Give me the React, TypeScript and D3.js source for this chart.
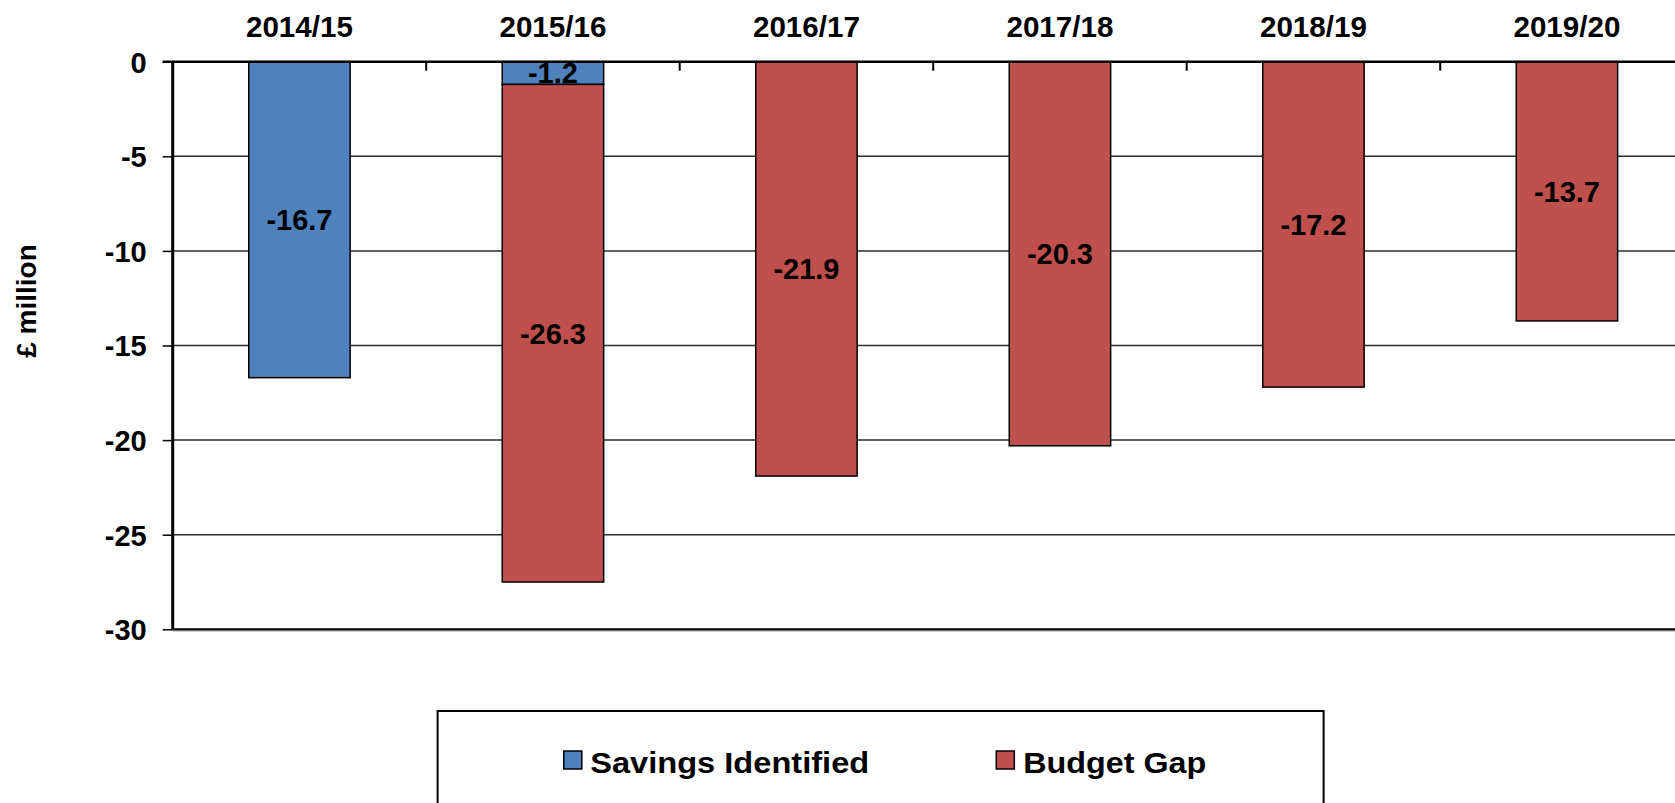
/* eslint-disable */
// @ts-nocheck
import { useEffect, useRef } from 'react'
import * as d3 from 'd3'

// chart values
const years = ['2014/15', '2015/16', '2016/17', '2017/18', '2018/19', '2019/20']
const savingsIdentified = [-16.7, -1.2, 0, 0, 0, 0]
const budgetGap = [0, -26.3, -21.9, -20.3, -17.2, -13.7]
const seriesNames = ['Savings Identified', 'Budget Gap']
const yTicks = [0, -5, -10, -15, -20, -25, -30]

const colors = ['#4F81BD', '#C0504D']
const font = 'Arial, "Liberation Sans", Helvetica, sans-serif'

export default function App() {
  const svgRef = useRef<any>()
  const W = 1675
  const H = 803

  useEffect(() => {
    const svg = d3.select(svgRef.current)
    svg.selectAll('*').remove()

    const left = 172.7
    const top = 61.7
    const bottom = 629.3
    const step = 253.5

    const rows = years.map((y, i) => ({
      year: y,
      savings: savingsIdentified[i],
      gap: budgetGap[i],
    }))

    const x = d3
      .scaleBand()
      .domain(years)
      .range([left, left + step * years.length])
      .paddingInner(0.6)
      .paddingOuter(0.3)
    const y = d3.scaleLinear().domain([-30, 0]).range([bottom, top])

    const stack = d3.stack().keys(['savings', 'gap']).offset(d3.stackOffsetDiverging)
    const series = stack(rows)

    // gridlines
    svg
      .append('g')
      .selectAll('line')
      .data(yTicks.filter((t) => t !== 0 && t !== -30))
      .enter()
      .append('line')
      .attr('x1', left)
      .attr('x2', W)
      .attr('y1', (d) => y(d))
      .attr('y2', (d) => y(d))
      .attr('stroke', '#2b2b2b')
      .attr('stroke-width', 1.5)

    // bottom frame line with soft shadow
    svg
      .append('line')
      .attr('x1', left)
      .attr('x2', W)
      .attr('y1', y(-30) + 1.5)
      .attr('y2', y(-30) + 1.5)
      .attr('stroke', '#999')
      .attr('stroke-width', 1.5)
    svg
      .append('line')
      .attr('x1', left)
      .attr('x2', W)
      .attr('y1', y(-30))
      .attr('y2', y(-30))
      .attr('stroke', '#000')
      .attr('stroke-width', 2)

    // bars
    svg
      .append('g')
      .selectAll('g')
      .data(series)
      .enter()
      .append('g')
      .attr('fill', (d, i) => colors[i])
      .selectAll('rect')
      .data((d) => d.filter((s) => s[1] - s[0] !== 0))
      .enter()
      .append('rect')
      .attr('x', (d) => x(d.data.year))
      .attr('y', (d) => y(Math.max(d[0], d[1])))
      .attr('width', x.bandwidth())
      .attr('height', (d) => Math.abs(y(d[0]) - y(d[1])))
      .attr('stroke', '#000')
      .attr('stroke-width', 1.5)

    // data labels
    svg
      .append('g')
      .selectAll('g')
      .data(series)
      .enter()
      .append('g')
      .selectAll('text')
      .data((d) => d.filter((s) => s[1] - s[0] !== 0))
      .enter()
      .append('text')
      .attr('x', (d) => x(d.data.year) + x.bandwidth() / 2)
      .attr('y', (d) => (y(d[0]) + y(d[1])) / 2)
      .attr('dy', '0.36em')
      .attr('text-anchor', 'middle')
      .attr('font-family', font)
      .attr('font-weight', 'bold')
      .attr('font-size', 29)
      .attr('fill', '#000')
      .text((d) => (-Math.abs(d[1] - d[0])).toFixed(1))

    // zero line (top)
    svg
      .append('line')
      .attr('x1', left - 10)
      .attr('x2', W)
      .attr('y1', y(0))
      .attr('y2', y(0))
      .attr('stroke', '#000')
      .attr('stroke-width', 2.5)

    // category ticks along the zero line
    const cx = (c) => x(c) - (x.step() - x.bandwidth()) / 2
    svg
      .append('g')
      .selectAll('line')
      .data(years.slice(1))
      .enter()
      .append('line')
      .attr('x1', (d) => cx(d))
      .attr('x2', (d) => cx(d))
      .attr('y1', y(0))
      .attr('y2', y(0) + 9)
      .attr('stroke', '#000')
      .attr('stroke-width', 2)

    // category labels
    svg
      .append('g')
      .selectAll('text')
      .data(years)
      .enter()
      .append('text')
      .attr('x', (d) => x(d) + x.bandwidth() / 2)
      .attr('y', 36.5)
      .attr('text-anchor', 'middle')
      .attr('font-family', font)
      .attr('font-weight', 'bold')
      .attr('font-size', 29)
      .attr('textLength', 107)
      .attr('lengthAdjust', 'spacingAndGlyphs')
      .text((d) => d)

    // y axis
    const yAxis = d3
      .axisLeft(y)
      .tickValues(yTicks)
      .tickSize(10)
      .tickPadding(16)
      .tickFormat((d) => String(d))
    const ga = svg.append('g').attr('transform', `translate(${left},0)`).call(yAxis)
    ga.select('.domain').attr('stroke', '#000').attr('stroke-width', 3).attr('d', `M0,${top}V${bottom}`)
    ga.selectAll('.tick line').attr('stroke', '#000').attr('stroke-width', 1.5)
    ga.selectAll('.tick text')
      .attr('font-family', font)
      .attr('font-weight', 'bold')
      .attr('font-size', 29)
      .attr('fill', '#000')
      .attr('dy', '0.36em')

    // y axis title
    svg
      .append('text')
      .attr('transform', `translate(36,301) rotate(-90)`)
      .attr('text-anchor', 'middle')
      .attr('font-family', font)
      .attr('font-weight', 'bold')
      .attr('font-size', 28)
      .text('£ million')

    // legend
    svg
      .append('rect')
      .attr('x', 437.6)
      .attr('y', 711)
      .attr('width', 886)
      .attr('height', 120)
      .attr('fill', '#fff')
      .attr('stroke', '#000')
      .attr('stroke-width', 2)

    const legendItems = [
      { name: seriesNames[0], sx: 563.8, tx: 590.2, tw: 279 },
      { name: seriesNames[1], sx: 996.3, tx: 1023.3, tw: 183 },
    ]
    const lg = svg.append('g')
    legendItems.forEach((it, i) => {
      lg.append('rect')
        .attr('x', it.sx)
        .attr('y', 751)
        .attr('width', 18)
        .attr('height', 18)
        .attr('fill', colors[i])
        .attr('stroke', '#000')
        .attr('stroke-width', 1.5)
      lg.append('text')
        .attr('x', it.tx)
        .attr('y', 773)
        .attr('font-family', font)
        .attr('font-weight', 'bold')
        .attr('font-size', 30)
        .attr('textLength', it.tw)
        .attr('lengthAdjust', 'spacingAndGlyphs')
        .text(it.name)
    })
  }, [])

  return (
    <svg
      ref={svgRef}
      width={W}
      height={H}
      style={{ position: 'absolute', left: 0, top: 0, background: '#fff' }}
    ></svg>
  )
}
